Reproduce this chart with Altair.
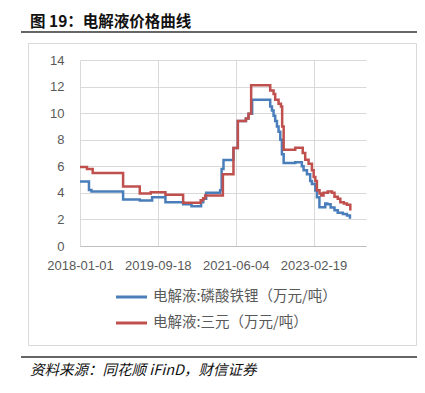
import altair as alt
import pandas as pd

# ---- data ----
blue_name = "电解液:磷酸铁锂（万元/吨）"
red_name = "电解液:三元（万元/吨）"

blue_dates = ["2018-01-01", "2018-03-14", "2018-04-03", "2018-12-13", "2019-04-26", "2019-08-03",
              "2019-11-18", "2020-04-08", "2020-06-14", "2020-08-30", "2020-09-16", "2020-10-10",
              "2021-01-30", "2021-02-11", "2021-02-26", "2021-05-17", "2021-06-21", "2021-08-25",
              "2021-09-15", "2021-10-14", "2022-02-28", "2022-03-08", "2022-03-22", "2022-04-04",
              "2022-04-17", "2022-05-01", "2022-05-14", "2022-05-28", "2022-06-10", "2022-06-24",
              "2022-09-25", "2022-11-17", "2022-12-01", "2022-12-28", "2023-01-23", "2023-02-06",
              "2023-03-05", "2023-03-18", "2023-04-07", "2023-05-24", "2023-06-10", "2023-07-06",
              "2023-08-06", "2023-09-01", "2023-10-12", "2023-11-14", "2023-12-08"]
blue_vals = [4.85, 4.22, 4.1, 3.5, 3.43, 3.67, 3.3, 3.15, 3.0, 3.3, 3.55, 4.0,
             4.2, 5.8, 6.47, 7.37, 9.4, 9.6, 9.95, 11.0, 11.0, 10.5, 10.2, 9.8,
             9.4, 9.0, 8.6, 8.0, 6.9, 6.25, 6.3, 6.0, 5.7, 5.4, 4.9, 4.67,
             4.17, 3.67, 2.92, 3.2, 3.15, 2.9, 2.7, 2.5, 2.4, 2.3, 2.05]

red_dates = ["2018-01-01", "2018-02-26", "2018-04-13", "2018-12-13", "2019-04-26", "2019-07-23",
             "2019-11-18", "2020-04-08", "2020-08-27", "2020-09-16", "2020-10-02", "2021-02-21",
             "2021-05-17", "2021-06-21", "2021-08-25", "2021-09-15", "2021-10-06", "2022-03-08",
             "2022-04-04", "2022-04-17", "2022-05-14", "2022-06-02", "2022-06-12", "2022-06-24",
             "2022-09-25", "2022-11-24", "2022-12-14", "2023-01-10", "2023-02-06", "2023-02-20",
             "2023-03-05", "2023-03-18", "2023-04-08", "2023-04-22", "2023-05-10", "2023-06-13",
             "2023-07-17", "2023-08-06", "2023-09-01", "2023-09-22", "2023-10-20", "2023-11-14",
             "2023-12-11"]
red_vals = [5.95, 5.8, 5.5, 4.47, 3.95, 4.05, 3.85, 3.25, 3.45, 3.6, 3.8, 5.4,
            7.37, 9.4, 9.6, 9.95, 12.1, 11.7, 11.45, 11.0, 10.7, 10.5, 9.0, 7.25,
            7.4, 7.0, 6.5, 6.2, 5.7, 5.2, 4.9, 4.2, 3.95, 3.8, 4.0, 4.1,
            4.0, 3.7, 3.55, 3.3, 3.2, 3.1, 2.67]

x_ticks = [(2018, 1, 1), (2019, 9, 18), (2021, 6, 4), (2023, 2, 19)]
x_domain = [(2018, 1, 1), (2024, 4, 15)]
y_ticks = [0, 2, 4, 6, 8, 10, 12, 14]

title_text = "图 19：电解液价格曲线"
source_text = "资料来源：同花顺 iFinD，财信证券"

BLUE = "#4a7ebb"
RED = "#c0504d"
CJK = "Noto Sans CJK SC"
LAT = "Liberation Sans"

blue_df = pd.DataFrame({"date": blue_dates, "value": blue_vals})
red_df = pd.DataFrame({"date": red_dates, "value": red_vals})


def dt(t):
    return alt.DateTime(year=t[0], month=t[1], date=t[2], utc=True)


x_enc = alt.X(
    "date:T",
    scale=alt.Scale(type="utc", domain=[dt(t) for t in x_domain]),
    axis=alt.Axis(
        values=[dt(t) for t in x_ticks], format="%Y-%m-%d", title=None,
        grid=True, gridColor="#d9d9d9", gridWidth=1,
        domainColor="#bfbfbf", domainWidth=1, ticks=False,
        labelPadding=13, labelFontSize=13, labelFont=LAT, labelColor="#595959",
        labelOverlap=False, labelFlush=False,
    ),
)
y_enc = alt.Y(
    "value:Q",
    scale=alt.Scale(domain=[0, 14], nice=False),
    axis=alt.Axis(
        values=y_ticks, title=None, grid=True, gridColor="#d9d9d9", gridWidth=1,
        domain=False, ticks=False, labelPadding=16, labelFontSize=13,
        labelFont=LAT, labelColor="#595959",
    ),
)

blue_line = alt.Chart(blue_df).mark_line(
    color=BLUE, strokeWidth=2.5, interpolate="step-after"
).encode(x=x_enc, y=y_enc)
red_line = alt.Chart(red_df).mark_line(
    color=RED, strokeWidth=2.5, interpolate="step-after"
).encode(x=x_enc, y=y_enc)

one = alt.Data(values=[{}])

box = alt.Chart(one).mark_rect(fill="transparent", stroke="#d9d9d9", strokeWidth=1).encode(
    x=alt.value(-51.5), x2=alt.value(336.5), y=alt.value(-16.5), y2=alt.value(285.5)
)
top_rule = alt.Chart(one).mark_rule(color="#333333", strokeWidth=1.5).encode(
    x=alt.value(-59), x2=alt.value(337), y=alt.value(-28), y2=alt.value(-28)
)
bottom_rule = alt.Chart(one).mark_rule(color="#333333", strokeWidth=1.5).encode(
    x=alt.value(-59), x2=alt.value(337), y=alt.value(297), y2=alt.value(297)
)
title = alt.Chart(one).mark_text(
    align="left", baseline="middle", font=CJK, fontSize=15.5, fontWeight="bold", color="#111111"
).encode(x=alt.value(-50), y=alt.value(-38), text=alt.value(title_text))
source = alt.Chart(one).mark_text(
    align="left", baseline="middle", font=CJK, fontSize=14.5, fontStyle="italic", color="#111111"
).encode(x=alt.value(-50), y=alt.value(311), text=alt.value(source_text))

leg_blue_line = alt.Chart(one).mark_rule(color=BLUE, strokeWidth=3).encode(
    x=alt.value(36), x2=alt.value(67), y=alt.value(237), y2=alt.value(237)
)
leg_red_line = alt.Chart(one).mark_rule(color=RED, strokeWidth=3).encode(
    x=alt.value(36), x2=alt.value(67), y=alt.value(263), y2=alt.value(263)
)
leg_blue_text = alt.Chart(one).mark_text(
    align="left", baseline="middle", font=CJK, fontSize=14.5, color="#595959"
).encode(x=alt.value(73), y=alt.value(237), text=alt.value(blue_name))
leg_red_text = alt.Chart(one).mark_text(
    align="left", baseline="middle", font=CJK, fontSize=14.5, color="#595959"
).encode(x=alt.value(73), y=alt.value(263), text=alt.value(red_name))

chart = alt.layer(
    box, blue_line, red_line, top_rule, bottom_rule, title, source,
    leg_blue_line, leg_red_line, leg_blue_text, leg_red_text,
).properties(
    width=286, height=186, autosize="none",
    padding={"left": 72, "top": 52, "right": 51, "bottom": 138},
    background="white",
).configure_view(stroke=None)

chart.save("out.html", embed_options={"renderer": "svg", "actions": False})
